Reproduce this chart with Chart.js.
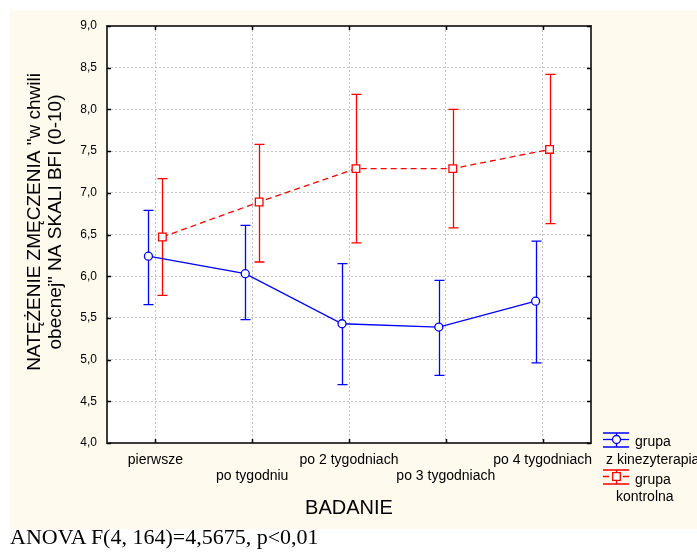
<!DOCTYPE html>
<html>
<head>
<meta charset="utf-8">
<script src="https://cdn.jsdelivr.net/npm/chart.js@4/dist/chart.umd.min.js"></script>
<style>
    html, body { margin: 0; padding: 0; background: #ffffff; }
    #wrap { position: absolute; left: 0; top: 0; width: 697px; height: 557px; }
    #anova {
        position: absolute; left: 10px; top: 525px;
        font-family: 'Liberation Serif', 'Times New Roman', serif;
        font-size: 22px; line-height: 24px; color: #000;
        white-space: nowrap;
    }
</style>
</head>
<body>
<div id="wrap"><canvas id="fatigueChart"></canvas></div>
<div id="anova">ANOVA F(4, 164)=4,5675, p&lt;0,01</div>
<script>
// Measurement points
const categories = ['pierwsze', 'po tygodniu', 'po 2 tygodniach', 'po 3 tygodniach', 'po 4 tygodniach'];

// Group with kinesiotherapy: mean and 95% CI
const kinezMean = [6.24, 6.03, 5.43, 5.39, 5.70];
const kinezLow = [5.66, 5.48, 4.70, 4.81, 4.96];
const kinezHigh = [6.79, 6.61, 6.15, 5.95, 6.42];

// Control group: mean and 95% CI
const kontrMean = [6.47, 6.89, 7.29, 7.29, 7.52];
const kontrLow = [5.77, 6.17, 6.40, 6.58, 6.63];
const kontrHigh = [7.17, 7.58, 8.18, 8.00, 8.42];

// Y axis ticks
const yTicks = [4.0, 4.5, 5.0, 5.5, 6.0, 6.5, 7.0, 7.5, 8.0, 8.5, 9.0];

const yTitle = ['NATĘŻENIE ZMĘCZENIA "w chwili', 'obecnej" NA SKALI BFI (0-10)'];

const BLUE = '#0000ff';
const RED = '#ff0000';
const FONT = "'Liberation Sans', Arial, sans-serif";

// small horizontal shift so the two groups don't overlap
const dodge = 0.072;

function toPoints(means, shift) {
    return means.map((v, i) => ({ x: i + shift, y: v }));
}

// Background, frame, inner tick marks and error bars
const framePlugin = {
    id: 'frame',
    beforeDraw(chart) {
        const ctx = chart.ctx;
        const a = chart.chartArea;
        ctx.save();
        ctx.fillStyle = '#fff9ee';
        ctx.fillRect(10, 10, chart.width - 10, 519);
        ctx.fillStyle = '#ffffff';
        ctx.fillRect(a.left, a.top, a.right - a.left, a.bottom - a.top);
        ctx.restore();
    },
    beforeDatasetsDraw(chart) {
        const ctx = chart.ctx;
        const yScale = chart.scales.y;
        const bands = [[kinezLow, kinezHigh], [kontrLow, kontrHigh]];
        ctx.save();
        chart.data.datasets.forEach((ds, di) => {
            const meta = chart.getDatasetMeta(di);
            const [low, high] = bands[di];
            ctx.strokeStyle = ds.borderColor;
            ctx.lineWidth = 1.3;
            ctx.setLineDash([]);
            meta.data.forEach((pt, i) => {
                const x = Math.round(pt.x) + 0.5;
                const yl = yScale.getPixelForValue(low[i]);
                const yh = yScale.getPixelForValue(high[i]);
                ctx.beginPath();
                ctx.moveTo(x, yl); ctx.lineTo(x, yh);
                ctx.moveTo(x - 5, yl); ctx.lineTo(x + 5, yl);
                ctx.moveTo(x - 5, yh); ctx.lineTo(x + 5, yh);
                ctx.stroke();
            });
        });
        ctx.restore();
    },
    afterDraw(chart) {
        const ctx = chart.ctx;
        const a = chart.chartArea;
        const xs = chart.scales.x;
        const ys = chart.scales.y;
        ctx.save();
        ctx.strokeStyle = '#3c3c3c';
        ctx.lineWidth = 2;
        ctx.strokeRect(a.left, a.top, a.right - a.left, a.bottom - a.top);
        ctx.lineWidth = 1.5;
        ctx.strokeStyle = '#000';
        ctx.beginPath();
        xs.ticks.forEach(t => {
            const px = Math.round(xs.getPixelForValue(t.value)) + 0.5;
            ctx.moveTo(px, a.bottom); ctx.lineTo(px, a.bottom - 4);
            ctx.moveTo(px, a.top); ctx.lineTo(px, a.top + 4);
        });
        ys.ticks.forEach(t => {
            const py = Math.round(ys.getPixelForValue(t.value)) + 0.5;
            ctx.moveTo(a.left, py); ctx.lineTo(a.left + 4, py);
            ctx.moveTo(a.right, py); ctx.lineTo(a.right - 4, py);
        });
        ctx.stroke();

        // rotated two-line y axis title
        ctx.translate(35, 222);
        ctx.rotate(-Math.PI / 2);
        ctx.fillStyle = '#000';
        ctx.font = '19px ' + FONT;
        ctx.textAlign = 'center';
        ctx.textBaseline = 'middle';
        yTitle.forEach((line, i) => ctx.fillText(line, 0, i * 21));
        ctx.restore();

        drawLegend(ctx);
    }
};

// Legend in the lower right corner
function drawLegendItem(ctx, cy, color, dashed, marker) {
    const x0 = 603, x1 = 629, cx = 616.5;
    ctx.strokeStyle = color;
    ctx.lineWidth = 1.3;
    ctx.setLineDash([]);
    ctx.beginPath();
    ctx.moveTo(x0, cy - 6.5); ctx.lineTo(x1, cy - 6.5);
    ctx.moveTo(x0, cy + 7.5); ctx.lineTo(x1, cy + 7.5);
    ctx.moveTo(cx, cy - 6.5); ctx.lineTo(cx, cy + 7.5);
    ctx.stroke();
    ctx.setLineDash(dashed ? [6, 4] : []);
    ctx.beginPath();
    ctx.moveTo(x0, cy); ctx.lineTo(x1, cy);
    ctx.stroke();
    ctx.setLineDash([]);
    ctx.fillStyle = '#fff';
    ctx.beginPath();
    if (marker === 'circle') {
        ctx.arc(cx, cy, 4, 0, Math.PI * 2);
    } else {
        ctx.rect(cx - 3.8, cy - 3.8, 7.6, 7.6);
    }
    ctx.fill();
    ctx.stroke();
}

function drawLegend(ctx) {
    ctx.save();
    drawLegendItem(ctx, 439.5, BLUE, false, 'circle');
    drawLegendItem(ctx, 476.5, RED, true, 'rect');
    ctx.fillStyle = '#000';
    ctx.font = '14px ' + FONT;
    ctx.textBaseline = 'alphabetic';
    ctx.textAlign = 'left';
    ctx.fillText('grupa', 635, 446);
    ctx.fillText('z kinezyterapia', 606, 463.5);
    ctx.fillText('grupa', 635, 483.5);
    ctx.fillText('kontrolna', 616, 501);
    ctx.restore();
}

const ctx = document.getElementById('fatigueChart').getContext('2d');

const fatigueChart = new Chart(ctx, {
    type: 'line',
    data: {
        datasets: [{
            label: 'grupa z kinezyterapia',
            data: toPoints(kinezMean, -dodge),
            borderColor: BLUE,
            backgroundColor: '#ffffff',
            borderWidth: 1.3,
            pointStyle: 'circle',
            pointRadius: 4,
            pointBorderWidth: 1.3,
            tension: 0
        }, {
            label: 'grupa kontrolna',
            data: toPoints(kontrMean, dodge),
            borderColor: RED,
            backgroundColor: '#ffffff',
            borderWidth: 1.3,
            borderDash: [6, 4],
            pointStyle: 'rect',
            pointRadius: 5.4,
            pointBorderWidth: 1.3,
            tension: 0
        }]
    },
    options: {
        responsive: true,
        maintainAspectRatio: false,
        animation: false,
        layout: {
            padding: { top: 26, left: 10, right: 106, bottom: 28 }
        },
        plugins: {
            legend: { display: false },
            tooltip: { enabled: false }
        },
        scales: {
            x: {
                type: 'linear',
                min: -0.5,
                max: categories.length - 0.5,
                afterBuildTicks: scale => {
                    scale.ticks = categories.map((_, i) => ({ value: i }));
                },
                afterFit: scale => { scale.height = 86; },
                border: { display: false, dash: [2, 2] },
                grid: { color: '#c4c4c4', drawTicks: false, lineWidth: 1 },
                ticks: {
                    color: '#000',
                    padding: 9,
                    maxRotation: 0,
                    autoSkip: false,
                    font: { family: FONT, size: 14, lineHeight: 16 / 14 },
                    callback: value => {
                        const label = categories[value];
                        return value % 2 === 1 ? ['', label] : label;
                    }
                },
                title: {
                    display: true,
                    text: 'BADANIE',
                    color: '#000',
                    font: { family: FONT, size: 20, lineHeight: 1.2 },
                    padding: { top: 0, bottom: 9 }
                }
            },
            y: {
                min: 4,
                max: 9,
                afterBuildTicks: scale => {
                    scale.ticks = yTicks.map(v => ({ value: v }));
                },
                afterFit: scale => { scale.width = 97; },
                border: { display: false, dash: [2, 2] },
                grid: { color: '#c4c4c4', drawTicks: false, lineWidth: 1 },
                ticks: {
                    color: '#000',
                    padding: 10,
                    font: { family: FONT, size: 12 },
                    callback: value => value.toFixed(1).replace('.', ',')
                }
            }
        }
    },
    plugins: [framePlugin]
});
</script>
</body>
</html>
